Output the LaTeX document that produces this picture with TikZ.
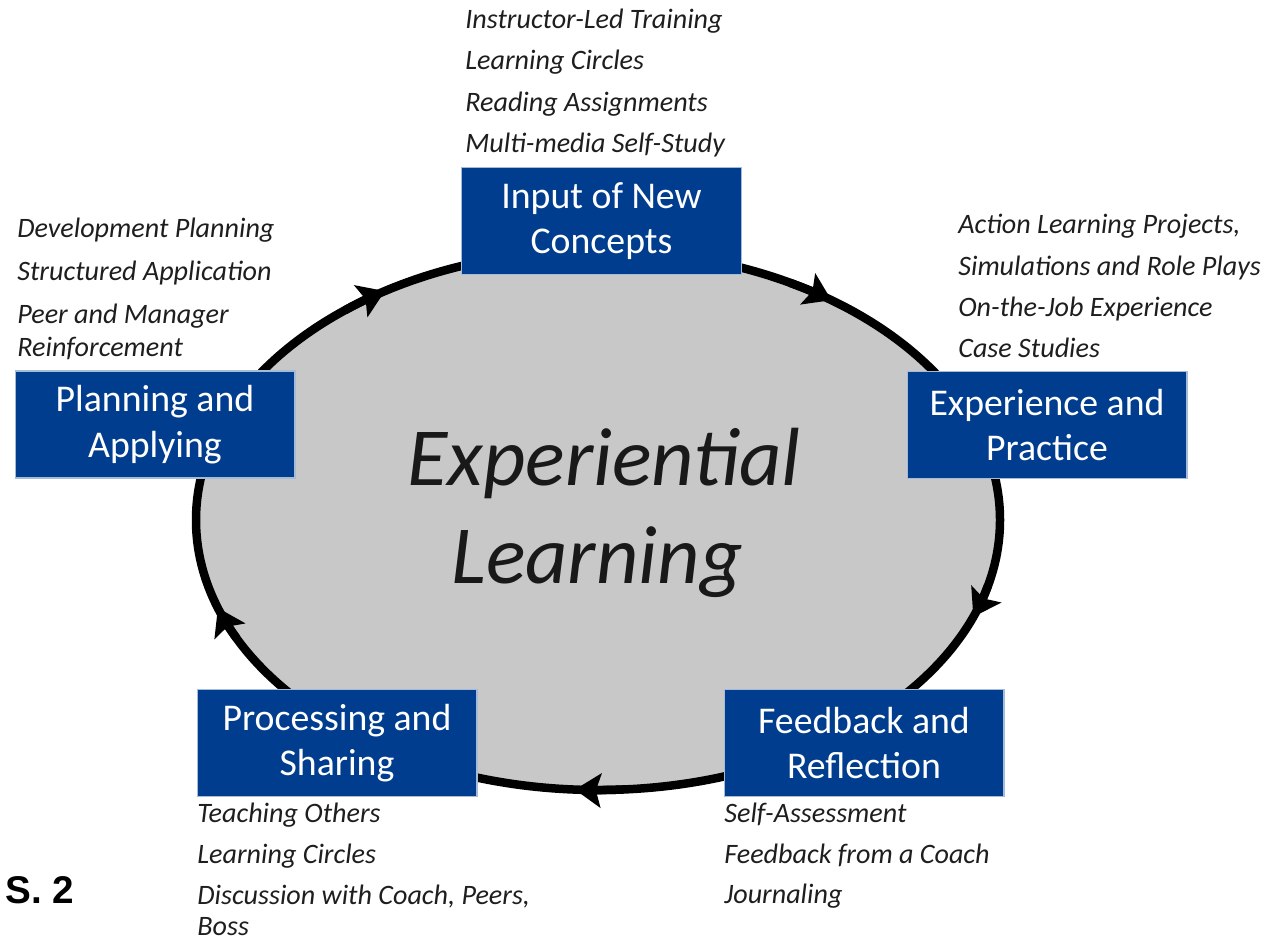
\documentclass[tikz,border=0pt]{standalone}
\usepackage{fontspec}
\setmainfont{Carlito}
\newfontfamily\arialfont{Liberation Sans}
\usetikzlibrary{arrows.meta,calc}
\definecolor{boxblue}{RGB}{0,61,143}
\definecolor{ringgray}{RGB}{200,200,200}
\definecolor{listtext}{RGB}{30,30,30}
\begin{document}
\begin{tikzpicture}[x=0.02cm,y=-0.02cm,
 phase/.style={fill=boxblue, draw=boxblue!35!white, line width=0.6pt, minimum width=5.6cm, minimum height=2.14cm, text=white, align=center, font=\fontsize{21.5}{26}\selectfont, inner sep=0pt},
 item/.style={anchor=base west, inner sep=0pt, text=listtext, font=\fontsize{16}{19}\selectfont\itshape},
 ring/.style={line width=0.17cm},
 cyc/.style={line width=0.17cm, -{Stealth[length=0.52cm,width=0.68cm,inset=0.1cm]}},
 bigtitle/.style={anchor=base, inner sep=0pt, text=black!90, font=\fontsize{47}{57}\selectfont\itshape}]
\useasboundingbox (0,0) rectangle (1274,941);
\coordinate (c) at (598,520);
\draw[ring, fill=ringgray] (c) ellipse [x radius=402, y radius=270];
\foreach \a in {238,305.5,21,93.3,161}
  \draw[cyc] ($(c)+(\a-7:402 and 270)$) arc[start angle=\a-7, end angle=\a, x radius=402, y radius=270];

\node[phase] (input) at (601.5,221) {Input of New\\Concepts};
\node[phase] (plan) at (155,424.5) {Planning and\\Applying};
\node[phase] (exp) at (1047,425) {Experience and\\Practice};
\node[phase] (proc) at (337,743) {Processing and\\Sharing};
\node[phase] (feed) at (864,743) {Feedback and\\Reflection};

\node[bigtitle] (t1) at (604,485) {Experiential};
\node[bigtitle] (t2) at (597,583) {Learning};

\node[item] (i1) at (465,28) {Instructor-Led Training};
\node[item] (i2) at (465,69) {Learning Circles};
\node[item] (i3) at (465,111) {Reading Assignments};
\node[item] (i4) at (465,152) {Multi-media Self-Study};

\node[item] (p1) at (17,237) {Development Planning};
\node[item] (p2) at (17,280) {Structured Application};
\node[item] (p3) at (17,323) {Peer and Manager};
\node[item] (p4) at (17,356) {Reinforcement};

\node[item] (e1) at (958,233) {Action Learning Projects,};
\node[item] (e2) at (958,275) {Simulations and Role Plays};
\node[item] (e3) at (958,316) {On-the-Job Experience};
\node[item] (e4) at (958,357) {Case Studies};

\node[item] (s1) at (197,822) {Teaching Others};
\node[item] (s2) at (197,863) {Learning Circles};
\node[item] (s3) at (197,904) {Discussion with Coach, Peers,};
\node[item] (s4) at (197,935) {Boss};

\node[item] (f1) at (724,822) {Self-Assessment};
\node[item] (f2) at (724,863) {Feedback from a Coach};
\node[item] (f3) at (724,903) {Journaling};

\node[anchor=base west, inner sep=0pt, font=\arialfont\bfseries\fontsize{22}{26}\selectfont] (fig) at (5,903) {S. 2};
\end{tikzpicture}
\end{document}
